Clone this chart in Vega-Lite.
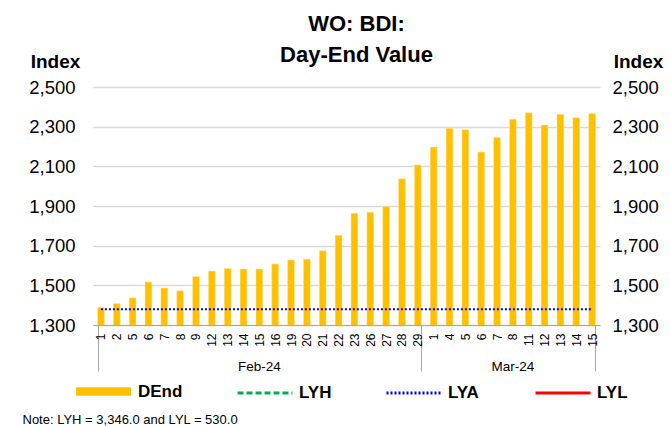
{
  "$schema": "https://vega.github.io/schema/vega-lite/v6.json",
  "autosize": "none",
  "width": 507,
  "height": 238,
  "padding": {"left": 93, "top": 87, "right": 70, "bottom": 102},
  "background": "white",
  "config": {
    "font": "Liberation Sans",
    "view": {"stroke": null},
    "axis": {"labelFont": "Liberation Sans", "titleFont": "Liberation Sans", "labelColor": "black", "titleColor": "black"},
    "legend": {"labelFont": "Liberation Sans", "labelColor": "black", "labelFontSize": 17, "labelFontWeight": "bold"}
  },
  "title": {
    "text": ["WO: BDI:", "Day-End Value"],
    "fontSize": 22,
    "fontWeight": "bold",
    "font": "Liberation Sans",
    "lineHeight": 31,
    "anchor": "middle",
    "frame": "group",
    "offset": -15,
    "dx": 10,
    "color": "black"
  },
  "data": {
    "values": [
      {"date": "2024-02-01", "DEnd": 1388, "LYH": 3346, "LYA": 1380, "LYL": 530},
      {"date": "2024-02-02", "DEnd": 1408, "LYH": 3346, "LYA": 1380, "LYL": 530},
      {"date": "2024-02-05", "DEnd": 1437, "LYH": 3346, "LYA": 1380, "LYL": 530},
      {"date": "2024-02-06", "DEnd": 1517, "LYH": 3346, "LYA": 1380, "LYL": 530},
      {"date": "2024-02-07", "DEnd": 1487, "LYH": 3346, "LYA": 1380, "LYL": 530},
      {"date": "2024-02-08", "DEnd": 1473, "LYH": 3346, "LYA": 1380, "LYL": 530},
      {"date": "2024-02-09", "DEnd": 1545, "LYH": 3346, "LYA": 1380, "LYL": 530},
      {"date": "2024-02-12", "DEnd": 1572, "LYH": 3346, "LYA": 1380, "LYL": 530},
      {"date": "2024-02-13", "DEnd": 1585, "LYH": 3346, "LYA": 1380, "LYL": 530},
      {"date": "2024-02-14", "DEnd": 1582, "LYH": 3346, "LYA": 1380, "LYL": 530},
      {"date": "2024-02-15", "DEnd": 1582, "LYH": 3346, "LYA": 1380, "LYL": 530},
      {"date": "2024-02-16", "DEnd": 1608, "LYH": 3346, "LYA": 1380, "LYL": 530},
      {"date": "2024-02-19", "DEnd": 1628, "LYH": 3346, "LYA": 1380, "LYL": 530},
      {"date": "2024-02-20", "DEnd": 1632, "LYH": 3346, "LYA": 1380, "LYL": 530},
      {"date": "2024-02-21", "DEnd": 1675, "LYH": 3346, "LYA": 1380, "LYL": 530},
      {"date": "2024-02-22", "DEnd": 1752, "LYH": 3346, "LYA": 1380, "LYL": 530},
      {"date": "2024-02-23", "DEnd": 1863, "LYH": 3346, "LYA": 1380, "LYL": 530},
      {"date": "2024-02-26", "DEnd": 1868, "LYH": 3346, "LYA": 1380, "LYL": 530},
      {"date": "2024-02-27", "DEnd": 1897, "LYH": 3346, "LYA": 1380, "LYL": 530},
      {"date": "2024-02-28", "DEnd": 2037, "LYH": 3346, "LYA": 1380, "LYL": 530},
      {"date": "2024-02-29", "DEnd": 2107, "LYH": 3346, "LYA": 1380, "LYL": 530},
      {"date": "2024-03-01", "DEnd": 2197, "LYH": 3346, "LYA": 1380, "LYL": 530},
      {"date": "2024-03-04", "DEnd": 2292, "LYH": 3346, "LYA": 1380, "LYL": 530},
      {"date": "2024-03-05", "DEnd": 2285, "LYH": 3346, "LYA": 1380, "LYL": 530},
      {"date": "2024-03-06", "DEnd": 2172, "LYH": 3346, "LYA": 1380, "LYL": 530},
      {"date": "2024-03-07", "DEnd": 2245, "LYH": 3346, "LYA": 1380, "LYL": 530},
      {"date": "2024-03-08", "DEnd": 2338, "LYH": 3346, "LYA": 1380, "LYL": 530},
      {"date": "2024-03-11", "DEnd": 2370, "LYH": 3346, "LYA": 1380, "LYL": 530},
      {"date": "2024-03-12", "DEnd": 2308, "LYH": 3346, "LYA": 1380, "LYL": 530},
      {"date": "2024-03-13", "DEnd": 2362, "LYH": 3346, "LYA": 1380, "LYL": 530},
      {"date": "2024-03-14", "DEnd": 2345, "LYH": 3346, "LYA": 1380, "LYL": 530},
      {"date": "2024-03-15", "DEnd": 2367, "LYH": 3346, "LYA": 1380, "LYL": 530}
    ]
  },
  "resolve": {"scale": {"x": "independent"}, "axis": {"x": "independent", "y": "independent"}},
  "layer": [
    {
      "mark": {"type": "bar", "clip": true, "stroke": "#FFE699", "strokeWidth": 0.5},
      "encoding": {
        "x": {
          "field": "date", "type": "ordinal", "sort": null,
          "scale": {"type": "band", "paddingInner": 0.57, "paddingOuter": 0.285},
          "axis": {
            "title": null,
            "labelExpr": "isString(datum.value) && length(datum.value) == 10 ? toNumber(substring(datum.value, 8, 10)) : ''",
            "labelAngle": -90,
            "labelAlign": "right",
            "labelBaseline": "middle",
            "labelFontSize": 12,
            "labelPadding": -38,
            "ticks": true,
            "tickBand": "extent",
            "tickSize": 46,
            "tickColor": "#A6A6A6",
            "tickOpacity": {"condition": {"test": "datum.value == '2024-02-29' || datum.value == '2024-03-15' || !isString(datum.value)", "value": 1}, "value": 0},
            "domain": true,
            "domainColor": "#A6A6A6",
            "grid": false
          }
        },
        "y": {
          "field": "DEnd", "type": "quantitative",
          "scale": {"domain": [1300, 2500], "nice": false, "zero": false},
          "axis": {
            "orient": "left",
            "values": [1300, 1500, 1700, 1900, 2100, 2300, 2500],
            "format": ",d",
            "labelFontSize": 18.5,
            "labelPadding": 18,
            "ticks": false,
            "domain": false,
            "grid": true,
            "gridColor": "#D9D9D9",
            "gridWidth": 1.3,
            "title": "Index",
            "titleFontSize": 19,
            "titleFontWeight": "bold",
            "titleAngle": 0,
            "titleAlign": "center",
            "titleBaseline": "alphabetic",
            "titleX": -38,
            "titleY": -20
          }
        },
        "fill": {
          "datum": "DEnd",
          "type": "nominal",
          "scale": {"domain": ["DEnd"], "range": ["#FFC000"]},
          "legend": {
            "title": null,
            "orient": "none",
            "legendX": -17,
            "legendY": 277,
            "direction": "horizontal",
            "symbolType": "M-1,-0.155H1V0.155H-1Z",
            "symbolSize": 3025,
            "symbolStrokeWidth": 0,
            "labelOffset": 7
          }
        }
      }
    },
    {
      "transform": [{"fold": ["LYH", "LYA", "LYL"], "as": ["series", "val"]}],
      "mark": {"type": "line", "clip": true, "strokeWidth": 2},
      "encoding": {
        "x": {
          "field": "date", "type": "ordinal", "sort": null,
          "scale": {"type": "band", "paddingInner": 0.57, "paddingOuter": 0.285},
          "axis": null
        },
        "y": {
          "field": "val", "type": "quantitative",
          "scale": {"domain": [1300, 2500], "nice": false, "zero": false},
          "axis": {
            "orient": "right",
            "values": [1300, 1500, 1700, 1900, 2100, 2300, 2500],
            "format": ",d",
            "labelFontSize": 18.5,
            "labelPadding": 12,
            "ticks": false,
            "domain": false,
            "grid": false,
            "title": "Index",
            "titleFontSize": 19,
            "titleFontWeight": "bold",
            "titleAngle": 0,
            "titleAlign": "center",
            "titleBaseline": "alphabetic",
            "titleX": 38,
            "titleY": -20
          }
        },
        "stroke": {
          "field": "series", "type": "nominal",
          "scale": {"domain": ["LYH", "LYA", "LYL"], "range": ["#00B050", "#0000FF", "#FF0000"]},
          "legend": {
            "title": null,
            "orient": "none",
            "legendX": 143,
            "legendY": 277,
            "direction": "horizontal",
            "columns": 3,
            "gridAlign": "all",
            "columnPadding": 48,
            "symbolType": "stroke",
            "symbolSize": 3025,
            "symbolStrokeWidth": 3,
            "labelOffset": 5
          }
        },
        "strokeDash": {
          "field": "series", "type": "nominal",
          "scale": {"domain": ["LYH", "LYA", "LYL"], "range": [[6, 3], [2, 2], [1, 0]]},
          "legend": {
            "title": null,
            "orient": "none",
            "legendX": 143,
            "legendY": 277,
            "direction": "horizontal",
            "columns": 3,
            "gridAlign": "all",
            "columnPadding": 48,
            "symbolType": "stroke",
            "symbolSize": 3025,
            "symbolStrokeWidth": 3,
            "labelOffset": 5
          }
        }
      }
    },
    {
      "mark": {"type": "point", "opacity": 0},
      "encoding": {
        "x": {
          "field": "date", "type": "ordinal", "sort": null,
          "scale": {"type": "band", "paddingInner": 0.57, "paddingOuter": 0.285},
          "axis": {
            "orient": "bottom",
            "values": ["2024-02-15", "2024-03-08"],
            "labelExpr": "datum.value == '2024-02-15' ? 'Feb-24' : 'Mar-24'",
            "labelAngle": 0,
            "labelAlign": "center",
            "labelBaseline": "top",
            "labelFontSize": 13.5,
            "labelPadding": 34,
            "ticks": false,
            "domain": false,
            "grid": false,
            "title": "Note: LYH = 3,346.0 and LYL = 530.0",
            "titleFontSize": 13,
            "titleFontWeight": "normal",
            "titleAlign": "left",
            "titleBaseline": "alphabetic",
            "titleX": -71,
            "titleY": 98
          }
        },
        "y": {"field": "DEnd", "type": "quantitative", "scale": {"domain": [1300, 2500], "nice": false, "zero": false}, "axis": null}
      }
    }
  ]
}
